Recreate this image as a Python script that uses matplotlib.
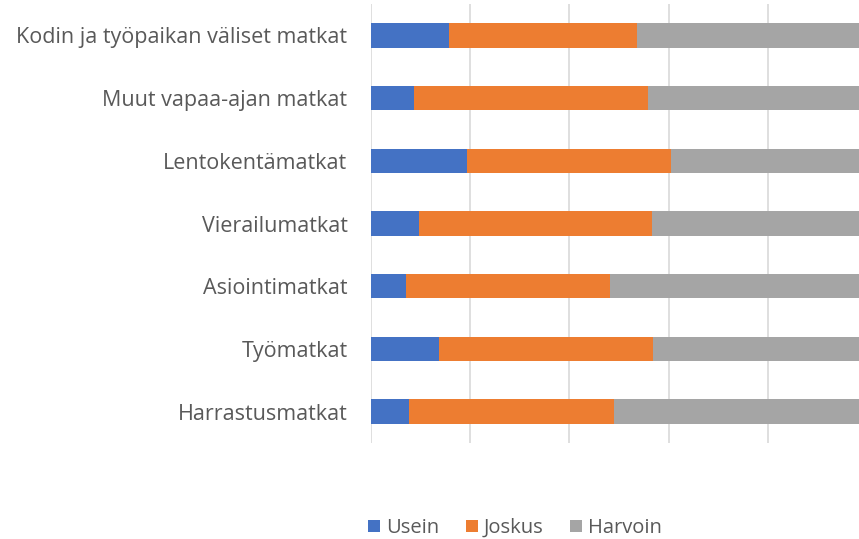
import numpy as np
import matplotlib
matplotlib.use('Agg')
import matplotlib.pyplot as plt

plt.rcParams['font.family'] = ['Open Sans', 'DejaVu Sans']

categories = ['Kodin ja työpaikan väliset matkat', 'Muut vapaa-ajan matkat', 'Lentokentämatkat',
              'Vierailumatkat', 'Asiointimatkat', 'Työmatkat', 'Harrastusmatkat']
usein = [0.158, 0.087, 0.194, 0.097, 0.071, 0.138, 0.077]
joskus = [0.378, 0.471, 0.411, 0.469, 0.411, 0.431, 0.412]
harvoin = [1 - u - j for u, j in zip(usein, joskus)]

colors = ['#4472c4', '#ed7d31', '#a5a5a5']
names = ['Usein', 'Joskus', 'Harvoin']

fig = plt.figure(figsize=(8.59, 5.39), dpi=100)
ax = fig.add_axes([371 / 859, 1 - 443 / 539, 1 - 371 / 859, (443 - 4) / 539])

y = np.arange(len(categories))[::-1]
left = np.zeros(len(categories))
for vals, c, n in zip([usein, joskus, harvoin], colors, names):
    ax.barh(y, vals, left=left, height=0.39, color=c, label=n, zorder=2)
    left += np.array(vals)

ax.set_xticks(np.arange(0, 1.01, 0.2))
ax.set_xticklabels([])
ax.set_xlim(0, (859 - 371) / 496)
ax.set_ylim(-0.5, len(categories) - 0.5)
ax.tick_params(axis='x', length=0)
ax.tick_params(axis='y', length=0, pad=17, labelsize=15.5, labelcolor='#595959')
ax.set_yticks(y)
ax.set_yticklabels(categories)
ax.grid(axis='x', color='#d9d9d9', linewidth=1.2, zorder=0)
for s in ax.spines.values():
    s.set_visible(False)

fig.legend(loc='center', bbox_to_anchor=(515 / 859, 1 - 528 / 539), ncol=3, frameon=False,
           fontsize=14.5, labelcolor='#595959', handlelength=0.6, handleheight=0.6,
           handletextpad=0.3, columnspacing=1.3)

fig.savefig('out.png', dpi=100)
